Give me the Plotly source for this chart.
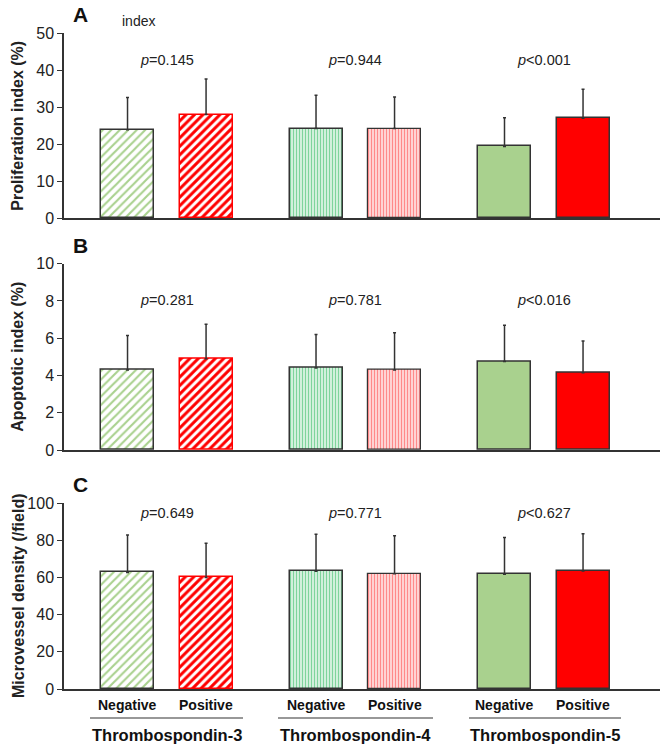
import plotly.graph_objects as go

groups = ["Thrombospondin-3", "Thrombospondin-4", "Thrombospondin-5"]
subgroups = ["Negative", "Positive"]
x_pos = [0, 1, 2.4, 3.4, 4.8, 5.8]

prolif_mean = [23.9, 28.0, 24.2, 24.2, 19.4, 27.0]
prolif_sd = [8.7, 9.6, 9.0, 8.5, 7.7, 7.8]
prolif_p = ["=0.145", "=0.944", "<0.001"]

apopt_mean = [4.3, 4.9, 4.4, 4.3, 4.75, 4.15]
apopt_sd = [1.85, 1.85, 1.8, 2.0, 1.95, 1.7]
apopt_p = ["=0.281", "=0.781", "<0.016"]

mvd_mean = [62.7, 60.0, 63.3, 62.0, 61.7, 63.4]
mvd_sd = [20.1, 18.3, 19.9, 20.4, 19.8, 20.1]
mvd_p = ["=0.649", "=0.771", "<0.627"]

panels = [
    ("A", "Proliferation index (%)", prolif_mean, prolif_sd, prolif_p, [0, 50], 10, 42.8),
    ("B", "Apoptotic index (%)", apopt_mean, apopt_sd, apopt_p, [0, 10], 2, 8.05),
    ("C", "Microvessel density (/field)", mvd_mean, mvd_sd, mvd_p, [0, 100], 20, 94.6),
]

W, H = 661, 755
domains = [(33, 218.3), (263.7, 450), (503, 689)]
x_dom = [64 / W, 660 / W]
x_range = [-0.809, 6.78]

GREEN = "#a9d18e"
RED = "#ff0000"
DARK = "#333333"
FONT = "Arial, Liberation Sans"

styles = [
    dict(color="white", pattern=dict(shape="/", fgcolor=GREEN, bgcolor="white", size=6, solidity=0.35), line=dict(color=DARK, width=1.5)),
    dict(color="white", pattern=dict(shape="/", fgcolor=RED, bgcolor="white", size=6, solidity=0.5), line=dict(color=RED, width=1.5)),
    dict(color="white", pattern=dict(shape="|", fgcolor="#7fd49c", bgcolor="#e4f6ea", size=3, solidity=0.45), line=dict(color=DARK, width=1.5)),
    dict(color="white", pattern=dict(shape="|", fgcolor="#ff8a8a", bgcolor="#ffe3e3", size=3, solidity=0.45), line=dict(color=DARK, width=1.2)),
    dict(color=GREEN, line=dict(color=DARK, width=1.5)),
    dict(color=RED, line=dict(color=DARK, width=1.5)),
]

fig = go.Figure()
annotations = []
shapes = []
layout_axes = {}

for i, (letter, title, means, sds, ps, yr, dt, py) in enumerate(panels):
    n = i + 1
    xa = "x" if n == 1 else f"x{n}"
    ya = "y" if n == 1 else f"y{n}"
    top, bot = domains[i]
    for j in range(6):
        fig.add_trace(go.Bar(
            x=[x_pos[j]], y=[means[j]], width=0.675,
            marker=styles[j],
            error_y=dict(type="data", array=[sds[j]], arrayminus=[0], symmetric=False,
                         color=DARK, thickness=1.5, width=1.5),
            xaxis=xa, yaxis=ya, showlegend=False, hoverinfo="skip",
        ))
    layout_axes["xaxis" if n == 1 else f"xaxis{n}"] = dict(
        domain=x_dom, range=x_range, anchor=ya, showticklabels=False, ticks="",
        showline=True, linecolor=DARK, linewidth=1.5, showgrid=False, zeroline=False,
        automargin=False, fixedrange=True)
    layout_axes["yaxis" if n == 1 else f"yaxis{n}"] = dict(
        domain=[1 - bot / H, 1 - top / H], range=yr, dtick=dt, anchor=xa,
        showline=True, linecolor=DARK, linewidth=1.5, ticks="outside", ticklen=5,
        tickcolor=DARK, tickwidth=1.2, showgrid=False, zeroline=False, automargin=False,
        fixedrange=True, tickfont=dict(family=FONT, size=16, color="#222"))
    for g in range(3):
        annotations.append(dict(
            x=(x_pos[2 * g] + x_pos[2 * g + 1]) / 2, y=py, xref=xa, yref=ya,
            text=f"<i>p</i>{ps[g]}", showarrow=False, xanchor="center", yanchor="middle",
            font=dict(family=FONT, size=14.5, color="#222")))
    annotations.append(dict(
        x=71 / W, y=1 - (top - 18) / H, xref="paper", yref="paper", text=f"<b>{letter}</b>",
        showarrow=False, xanchor="left", yanchor="middle",
        font=dict(family=FONT, size=21, color="#111")))
    annotations.append(dict(
        x=18 / W, y=1 - (top + bot) / 2 / H, xref="paper", yref="paper",
        text=f"<b>{title}</b>", showarrow=False, textangle=-90, xanchor="center", yanchor="middle",
        font=dict(family=FONT, size=16, color="#222")))

annotations.append(dict(
    x=120 / W, y=1 - 21 / H, xref="paper", yref="paper", text="index", showarrow=False,
    xanchor="left", yanchor="middle", font=dict(family=FONT, size=14, color="#222")))

underlines = [(90, 243), (278, 433), (469, 621)]
for g in range(3):
    for k in range(2):
        annotations.append(dict(
            x=x_pos[2 * g + k], y=1 - 705 / H, xref="x3", yref="paper",
            text=f"<b>{subgroups[k]}</b>", showarrow=False, xanchor="center", yanchor="middle",
            font=dict(family=FONT, size=14, color="#111")))
    x0, x1 = underlines[g]
    shapes.append(dict(type="line", xref="paper", yref="paper",
                       x0=x0 / W, x1=x1 / W, y0=1 - 718 / H, y1=1 - 718 / H,
                       line=dict(color=DARK, width=1.2)))
    annotations.append(dict(
        x=(x0 + x1) / 2 / W, y=1 - 735 / H, xref="paper", yref="paper",
        text=f"<b>{groups[g]}</b>", showarrow=False, xanchor="center", yanchor="middle",
        font=dict(family=FONT, size=16.5, color="#111")))

fig.update_layout(
    template="none",
    width=W, height=H, margin=dict(l=0, r=0, t=0, b=0, pad=0),
    paper_bgcolor="white", plot_bgcolor="white", hovermode=False,
    annotations=annotations, shapes=shapes, bargap=0, **layout_axes,
)

fig.write_html(
    "out.html",
    config={"displayModeBar": False},
    post_script="document.body.style.margin='0';document.body.style.overflow='hidden';",
)
